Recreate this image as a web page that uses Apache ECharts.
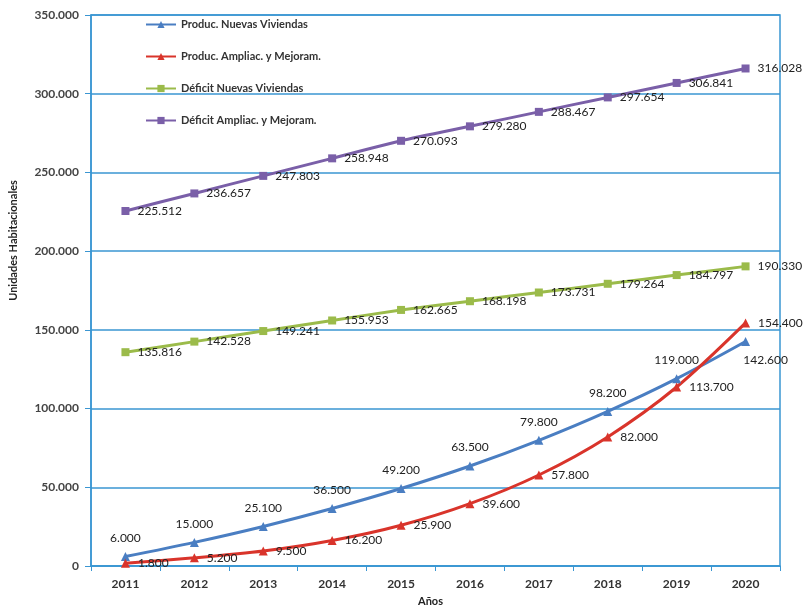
<!DOCTYPE html>
<html>
<head>
<meta charset="utf-8">
<script src="https://cdn.jsdelivr.net/npm/echarts@6/dist/echarts.min.js"></script>
<style>
  html, body { margin: 0; padding: 0; background: #fff; }
  #main { width: 807px; height: 609px; }
</style>
</head>
<body>
<div id="main"></div>
<script>
// datos
var years = ['2011', '2012', '2013', '2014', '2015', '2016', '2017', '2018', '2019', '2020'];
var prodNuevas = [6000, 15000, 25100, 36500, 49200, 63500, 79800, 98200, 119000, 142600];
var prodAmpliac = [1800, 5200, 9500, 16200, 25900, 39600, 57800, 82000, 113700, 154400];
var deficitNuevas = [135816, 142528, 149241, 155953, 162665, 168198, 173731, 179264, 184797, 190330];
var deficitAmpliac = [225512, 236657, 247803, 258948, 270093, 279280, 288467, 297654, 306841, 316028];
var seriesNames = ['Produc. Nuevas Viviendas', 'Produc. Ampliac. y Mejoram.', 'Déficit Nuevas Viviendas', 'Déficit Ampliac. y Mejoram.'];

var axisBlue = '#3a96d2';
var font = 'Lato, "Open Sans", sans-serif';

// formato 12.345
function fmt(v) {
    return String(v).replace(/\B(?=(\d{3})+(?!\d))/g, '.');
}

function labelOpt(pos) {
    return {
        show: true,
        position: pos,
        distance: 8,
        fontFamily: font,
        fontSize: 12,
        color: '#222',
        formatter: function (p) { return fmt(p.value); }
    };
}

function makeSeries(name, data, color, symbol, pos, smooth) {
    return {
        name: name,
        type: 'line',
        data: data,
        smooth: smooth,
        symbol: symbol,
        symbolSize: symbol == 'triangle' ? 9 : 8,
        lineStyle: { color: color, width: 3 },
        itemStyle: { color: color },
        label: labelOpt(pos)
    };
}

var s1 = makeSeries(seriesNames[0], prodNuevas.slice(), '#4a7ec2', 'triangle', 'top', 0.3);
s1.data = prodNuevas.map(function (v, i) {
    if (i == prodNuevas.length - 1) {
        return { value: v, label: { position: 'bottom', offset: [20, 0] } };
    }
    return v;
});
var s2 = makeSeries(seriesNames[1], prodAmpliac, '#d9342b', 'triangle', 'right', 0.3);
var s3 = makeSeries(seriesNames[2], deficitNuevas, '#9bbb4a', 'rect', 'right', 0.2);
var s4 = makeSeries(seriesNames[3], deficitAmpliac, '#7a5fa8', 'rect', 'right', 0.2);

var option = {
    backgroundColor: '#fff',
    animation: false,
    grid: {
        left: 91, right: 27, top: 15, bottom: 43,
        outerBoundsMode: 'none',
        containLabel: false,
        show: true, borderColor: axisBlue, borderWidth: 1.5
    },
    legend: {
        orient: 'vertical',
        left: 140,
        top: 14,
        itemWidth: 30,
        itemHeight: 9,
        itemGap: 21,
        textStyle: { fontFamily: font, fontSize: 11, fontWeight: 'bold', color: '#333' },
        data: seriesNames
    },
    xAxis: {
        type: 'category',
        data: years,
        boundaryGap: true,
        name: 'Años',
        nameLocation: 'middle',
        nameGap: 30,
        nameTextStyle: { fontFamily: font, fontSize: 11, fontWeight: 'bold', color: '#222', padding: [0, 10, 0, 0] },
        axisLine: { lineStyle: { color: axisBlue, width: 1.5 } },
        axisTick: { show: true, length: 5, alignWithLabel: false, lineStyle: { color: axisBlue } },
        axisLabel: { fontFamily: font, fontSize: 12, fontWeight: 'bold', color: '#333', margin: 12 }
    },
    yAxis: {
        type: 'value',
        min: 0,
        max: 350000,
        interval: 50000,
        name: 'Unidades Habitacionales',
        nameLocation: 'middle',
        nameGap: 72,
        nameTextStyle: { fontFamily: font, fontSize: 11, fontWeight: 'bold', color: '#222', padding: [0, 0, 0, 100] },
        axisLine: { show: true, lineStyle: { color: axisBlue, width: 1.5 } },
        axisTick: { show: true, length: 6, lineStyle: { color: axisBlue } },
        axisLabel: {
            fontFamily: font, fontSize: 12, fontWeight: 'bold', color: '#444', margin: 12,
            formatter: function (v) { return fmt(v); }
        },
        splitLine: { lineStyle: { color: axisBlue, width: 1.5 } }
    },
    series: [s1, s2, s3, s4]
};

var myChart = echarts.init(document.getElementById('main'));
myChart.setOption(option);
</script>
</body>
</html>
